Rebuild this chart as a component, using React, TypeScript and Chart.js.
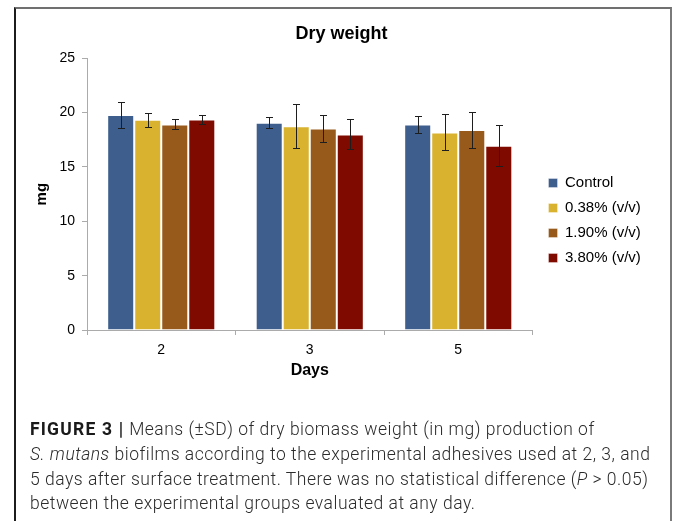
import React, { useEffect, useRef } from 'react';
import { Chart, registerables } from 'chart.js';

Chart.register(...registerables);

// ---- data ----
const days = ['2', '3', '5'];
const seriesNames = ['Control', '0.38% (v/v)', '1.90% (v/v)', '3.80% (v/v)'];
const seriesColors = ['#3E5F8D', '#D9B330', '#975A1B', '#7F0B00'];
const controlMeans = [19.78, 19.08, 18.92];
const controlSD = [1.17, 0.5, 0.8];
const low038Means = [19.35, 18.74, 18.18];
const low038SD = [0.66, 2.02, 1.65];
const mid190Means = [18.92, 18.55, 18.4];
const mid190SD = [0.46, 1.23, 1.65];
const high380Means = [19.36, 18.0, 16.96];
const high380SD = [0.38, 1.38, 1.9];
const yMax = 25;
const yStep = 5;

const meansBySeries = [controlMeans, low038Means, mid190Means, high380Means];
const sdBySeries = [controlSD, low038SD, mid190SD, high380SD];

const FONT = '"Liberation Sans", Arial, Helvetica, sans-serif';
const AXIS_GREY = '#ABABAB';

const errorBarPlugin = {
  id: 'errorBars',
  afterDatasetsDraw(chart: any) {
    const ctx = chart.ctx;
    const yScale = chart.scales.y;
    chart.data.datasets.forEach((ds: any, i: number) => {
      const meta = chart.getDatasetMeta(i);
      const sds = sdBySeries[i];
      meta.data.forEach((bar: any, j: number) => {
        const v = ds.data[j];
        const e = sds[j];
        const top = Math.round(yScale.getPixelForValue(v + e)) + 0.5;
        const bot = Math.round(yScale.getPixelForValue(v - e)) + 0.5;
        const x = Math.round(bar.x) + 0.5;
        ctx.save();
        ctx.strokeStyle = '#1E1E1E';
        ctx.lineWidth = 1;
        ctx.beginPath();
        ctx.moveTo(x, top);
        ctx.lineTo(x, bot);
        ctx.moveTo(x - 3.5, top);
        ctx.lineTo(x + 3.5, top);
        ctx.moveTo(x - 3.5, bot);
        ctx.lineTo(x + 3.5, bot);
        ctx.stroke();
        ctx.restore();
      });
    });
  },
};

// gives the legend box a little extra room on its right so no label is clipped
const legendRoomPlugin = {
  id: 'legendRoom',
  beforeLayout(chart: any) {
    const lg = chart.legend;
    if (lg && !lg.__room) {
      const orig = lg.fit;
      lg.fit = function (this: any) {
        orig.call(this);
        this.width += 6;
      };
      lg.__room = true;
    }
  },
};

export default function App() {
  const canvasRef = useRef<HTMLCanvasElement | null>(null);

  useEffect(() => {
    if (!canvasRef.current) return;
    Chart.defaults.font.family = FONT;
    const chart = new Chart(canvasRef.current, {
      type: 'bar',
      data: {
        labels: days,
        datasets: seriesNames.map((name, i) => ({
          label: name,
          data: meansBySeries[i],
          backgroundColor: seriesColors[i],
          borderColor: 'rgba(255,255,255,0.35)',
          borderWidth: 1,
          barPercentage: 1,
          categoryPercentage: 0.728,
        })),
      },
      options: {
        animation: false,
        responsive: false,
        maintainAspectRatio: false,
        layout: { padding: { left: 37, right: 27, top: 0, bottom: 0 } },
        plugins: {
          title: {
            display: true,
            text: 'Dry weight',
            color: '#000',
            font: { size: 18, weight: 'bold', family: FONT },
            padding: { top: 23.5, bottom: 13.2 },
          },
          legend: {
            position: 'right',
            fullSize: true,
            labels: {
              boxWidth: 9,
              boxHeight: 9,
              padding: 10,
              color: '#000',
              font: { size: 15, family: FONT },
            },
          },
          tooltip: { enabled: false },
        },
        scales: {
          x: {
            grid: {
              display: true,
              drawOnChartArea: false,
              drawTicks: true,
              tickLength: 5,
              color: AXIS_GREY,
              offset: true,
            },
            border: { display: true, color: AXIS_GREY },
            ticks: { color: '#000', font: { size: 14, family: FONT }, padding: 7 },
            title: {
              display: true,
              text: 'Days',
              color: '#000',
              font: { size: 16, weight: 'bold', family: FONT },
              padding: { top: 0, bottom: 61 },
            },
            afterFit: (s: any) => {
              s.height = 111;
            },
          },
          y: {
            min: 0,
            max: yMax,
            ticks: { stepSize: yStep, color: '#000', font: { size: 14, family: FONT }, padding: 7 },
            grid: { drawOnChartArea: false, drawTicks: true, tickLength: 5, color: AXIS_GREY },
            border: { display: true, color: AXIS_GREY },
            title: {
              display: true,
              text: 'mg',
              color: '#000',
              font: { size: 15, weight: 'bold', family: FONT },
              padding: { top: -3.7, bottom: 0 },
            },
            afterFit: (s: any) => {
              s.width = 50;
            },
          },
          gap: {
            type: 'linear',
            position: 'right',
            display: true,
            grid: { display: false },
            border: { display: false },
            ticks: { display: false },
            afterFit: (s: any) => {
              s.width = 6;
            },
          },
        },
      } as any,
      plugins: [errorBarPlugin, legendRoomPlugin],
    });
    return () => chart.destroy();
  }, []);

  return (
    <div
      style={{
        position: 'fixed',
        left: 0,
        top: 0,
        width: 673,
        height: 521,
        overflow: 'hidden',
        background: '#fff',
      }}
    >
      <div
        style={{
          position: 'absolute',
          left: 14,
          top: 7,
          width: 658,
          height: 540,
          boxSizing: 'border-box',
          borderLeft: '2px solid #1c1c1c',
          borderTop: '2px solid #707070',
          borderRight: '2px solid #7a7a7a',
        }}
      />
      <canvas
        ref={canvasRef}
        width={673}
        height={441}
        style={{ position: 'absolute', left: 0, top: 0, width: 673, height: 441 }}
      />
      <div
        style={{
          position: 'absolute',
          left: 30,
          top: 417,
          whiteSpace: 'nowrap',
          fontFamily: 'Roboto, "Noto Sans", sans-serif',
          fontWeight: 300,
          fontSize: 17.5,
          letterSpacing: '0.5px',
          lineHeight: '24.8px',
          color: '#2b2b2b',
        }}
      >
        <span style={{ fontWeight: 700, color: '#1a1a1a', letterSpacing: '1.2px' }}>FIGURE 3 |</span> Means
        (±SD) of dry biomass weight (in mg) production of
        <br />
        <i>S. mutans</i> biofilms according to the experimental adhesives used at 2, 3, and
        <br />5 days after surface treatment. There was no statistical difference (<i>P</i> &gt; 0.05)
        <br />
        between the experimental groups evaluated at any day.
      </div>
    </div>
  );
}
